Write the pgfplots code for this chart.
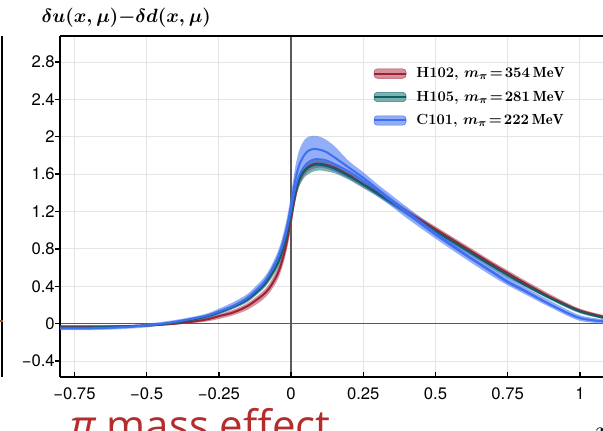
\documentclass[border=0pt]{standalone}
\usepackage{pgfplots}
\pgfplotsset{compat=1.18}
\usepackage{pgfplotstable}
\usepgfplotslibrary{fillbetween}
\usepackage{fontspec}
\newfontfamily\heros{TeX Gyre Heros}
\newfontfamily\opensans{Open Sans}
\definecolor{redline}{HTML}{9E2236}
\definecolor{redfill}{HTML}{B8495B}
\definecolor{tealline}{HTML}{0F5F63}
\definecolor{tealfill}{HTML}{2A7F80}
\definecolor{blueline}{HTML}{3F6EF0}
\definecolor{bluefill}{HTML}{4A78F0}
\definecolor{slidered}{HTML}{B32D2E}
\definecolor{leftmark}{HTML}{A0522D}

\pgfplotstableread{
x lo mid hi
-0.8 -0.04 -0.03 -0.02
-0.7 -0.04 -0.03 -0.02
-0.6 -0.04 -0.03 -0.02
-0.5 -0.03 -0.02 -0.01
-0.4 -0.01 0.0 0.01
-0.3 0.02 0.04 0.06
-0.25 0.05 0.08 0.10
-0.2 0.09 0.12 0.15
-0.15 0.15 0.19 0.22
-0.1 0.25 0.30 0.34
-0.075 0.33 0.38 0.43
-0.05 0.45 0.51 0.57
-0.035 0.56 0.63 0.70
-0.02 0.72 0.80 0.88
-0.01 0.86 0.95 1.03
0 1.02 1.12 1.20
0.01 1.22 1.30 1.38
0.02 1.38 1.45 1.52
0.03 1.49 1.55 1.61
0.045 1.58 1.63 1.68
0.06 1.63 1.68 1.72
0.08 1.66 1.71 1.75
0.1 1.67 1.71 1.75
0.12 1.66 1.70 1.74
0.15 1.63 1.67 1.71
0.2 1.55 1.59 1.62
0.25 1.46 1.49 1.53
0.3 1.37 1.40 1.43
0.35 1.27 1.30 1.33
0.4 1.17 1.20 1.23
0.5 0.98 1.01 1.04
0.6 0.79 0.82 0.85
0.7 0.60 0.63 0.66
0.75 0.51 0.54 0.57
0.8 0.42 0.45 0.48
0.9 0.26 0.28 0.31
1.0 0.12 0.14 0.16
1.1 0.04 0.06 0.08
}\redtab

\pgfplotstableread{
x lo mid hi
-0.8 -0.05 -0.04 -0.03
-0.7 -0.05 -0.04 -0.03
-0.6 -0.04 -0.03 -0.02
-0.5 -0.03 -0.02 -0.01
-0.4 0.0 0.01 0.02
-0.3 0.05 0.07 0.08
-0.25 0.10 0.12 0.14
-0.2 0.16 0.18 0.20
-0.15 0.23 0.26 0.28
-0.1 0.36 0.39 0.42
-0.075 0.45 0.49 0.52
-0.05 0.57 0.62 0.66
-0.035 0.67 0.73 0.78
-0.02 0.81 0.88 0.94
-0.01 0.94 1.01 1.08
0 1.08 1.16 1.24
0.01 1.25 1.33 1.40
0.02 1.39 1.46 1.53
0.03 1.48 1.55 1.62
0.045 1.56 1.63 1.69
0.06 1.60 1.67 1.73
0.08 1.63 1.70 1.76
0.1 1.64 1.70 1.76
0.12 1.63 1.69 1.75
0.15 1.61 1.66 1.71
0.2 1.54 1.58 1.62
0.25 1.45 1.49 1.52
0.3 1.36 1.39 1.42
0.35 1.26 1.29 1.32
0.4 1.16 1.19 1.22
0.5 0.96 0.99 1.02
0.6 0.77 0.80 0.83
0.7 0.58 0.61 0.64
0.75 0.49 0.52 0.55
0.8 0.41 0.43 0.46
0.9 0.25 0.27 0.29
1.0 0.11 0.13 0.15
1.1 0.04 0.05 0.07
}\tealtab

\pgfplotstableread{
x lo mid mid2 hi
-0.8 -0.07 -0.05 -0.05 -0.03
-0.7 -0.07 -0.05 -0.05 -0.03
-0.6 -0.06 -0.04 -0.04 -0.02
-0.5 -0.04 -0.02 -0.02 0.0
-0.4 0.0 0.02 0.02 0.04
-0.3 0.05 0.08 0.08 0.10
-0.25 0.10 0.13 0.13 0.16
-0.2 0.16 0.19 0.19 0.23
-0.15 0.24 0.28 0.28 0.32
-0.1 0.37 0.42 0.42 0.47
-0.075 0.47 0.53 0.53 0.58
-0.05 0.61 0.68 0.67 0.74
-0.035 0.72 0.80 0.78 0.87
-0.02 0.87 0.96 0.93 1.05
-0.01 1.00 1.10 1.06 1.20
0 1.15 1.27 1.21 1.38
0.01 1.32 1.46 1.38 1.59
0.02 1.45 1.61 1.51 1.76
0.03 1.54 1.71 1.60 1.87
0.045 1.62 1.80 1.68 1.96
0.06 1.66 1.85 1.73 2.00
0.08 1.68 1.87 1.76 2.01
0.1 1.68 1.86 1.76 2.00
0.12 1.67 1.84 1.75 1.97
0.15 1.63 1.78 1.71 1.90
0.2 1.56 1.67 1.63 1.74
0.25 1.47 1.56 1.53 1.62
0.3 1.36 1.44 1.42 1.49
0.35 1.25 1.32 1.30 1.37
0.4 1.13 1.20 1.18 1.25
0.5 0.91 0.97 0.95 1.02
0.6 0.70 0.75 0.74 0.80
0.7 0.50 0.55 0.54 0.59
0.75 0.41 0.45 0.44 0.50
0.8 0.33 0.37 0.36 0.41
0.9 0.17 0.20 0.20 0.24
1.0 0.03 0.06 0.06 0.09
1.1 0.0 0.02 0.02 0.04
}\bluetab

\begin{document}
\begin{tikzpicture}
% remnant of neighbouring panel
\draw[black, line width=1.1pt] (1.5pt,40.5pt) -- (1.5pt,296.25pt);
\draw[leftmark, line width=1.5pt] (0pt,82.5pt) -- (2.2pt,82.5pt);

\begin{axis}[
  at={(45pt,40.5pt)}, anchor=south west,
  scale only axis, width=407.25pt, height=255.75pt,
  xmin=-0.8, xmax=1.08, ymin=-0.571, ymax=3.078,
  axis x line*=box, axis y line*=left,
  xtick pos=left,
  axis line style={black, line width=1.1pt},
  xtick={-0.75,-0.5,-0.25,0,0.25,0.5,0.75,1},
  xticklabels={−0.75,−0.5,−0.25,0,0.25,0.5,0.75,1},
  ytick={-0.4,0,0.4,0.8,1.2,1.6,2,2.4,2.8},
  yticklabels={−0.4,0,0.4,0.8,1.2,1.6,2,2.4,2.8},
  tick align=inside,
  major tick length=4pt,
  tick style={black, line width=1.1pt},
  ytick style={xshift=-4pt},
  grid=major,
  major grid style={color=black!10, line width=0.6pt},
  tick label style={font=\heros\fontsize{12.5}{14}\selectfont},
  yticklabel style={inner sep=0pt, xshift=-3.75pt},
  xticklabel style={inner sep=0pt, yshift=-7.5pt},
  extra x ticks={0}, extra x tick labels={},
  extra y ticks={0}, extra y tick labels={},
  extra tick style={major tick length=0pt, major grid style={color=black!65, line width=1.1pt}},
  legend style={at={(axis description cs:0.576,0.916)}, anchor=north west,
    draw=none, fill=none, inner sep=0pt,
    font=\fontsize{11}{13}\selectfont\bfseries\boldmath,
    row sep=4.5pt, cells={anchor=west},
    /tikz/every odd column/.append style={column sep=5pt}},
  legend image code/.code={},
]
% H102 red
\addplot[name path=rlo, draw=none, smooth, forget plot] table[x=x,y=lo]{\redtab};
\addplot[name path=rhi, draw=none, smooth, forget plot] table[x=x,y=hi]{\redtab};
\addplot[redfill, fill opacity=0.6, forget plot] fill between[of=rlo and rhi];
\addplot[redline, line width=1.5pt, smooth, forget plot] table[x=x,y=mid]{\redtab};
% H105 teal
\addplot[name path=tlo, draw=none, smooth, forget plot] table[x=x,y=lo]{\tealtab};
\addplot[name path=thi, draw=none, smooth, forget plot] table[x=x,y=hi]{\tealtab};
\addplot[tealfill, fill opacity=0.6, forget plot] fill between[of=tlo and thi];
\addplot[tealline, line width=1.5pt, smooth, forget plot] table[x=x,y=mid]{\tealtab};
% C101 blue
\addplot[name path=blo, draw=none, smooth, forget plot] table[x=x,y=lo]{\bluetab};
\addplot[name path=bhi, draw=none, smooth, forget plot] table[x=x,y=hi]{\bluetab};
\addplot[bluefill, fill opacity=0.6, forget plot] fill between[of=blo and bhi];
\addplot[blueline, line width=1.5pt, smooth, forget plot] table[x=x,y=mid]{\bluetab};
\addplot[blueline, line width=1.2pt, smooth, forget plot] table[x=x,y=mid2]{\bluetab};

\addlegendimage{legend image code/.code={
  \fill[redfill, fill opacity=0.6, rounded corners=2.5pt] (0pt,-3.5pt) rectangle (24pt,3.5pt);
  \draw[redline, line width=1.5pt] (0pt,0pt) -- (24pt,0pt);}}
\addlegendentry{H102, $m_\pi\!=\!354\,\mathrm{MeV}$}
\addlegendimage{legend image code/.code={
  \fill[tealfill, fill opacity=0.6, rounded corners=2.5pt] (0pt,-3.5pt) rectangle (24pt,3.5pt);
  \draw[tealline, line width=1.5pt] (0pt,0pt) -- (24pt,0pt);}}
\addlegendentry{H105, $m_\pi\!=\!281\,\mathrm{MeV}$}
\addlegendimage{legend image code/.code={
  \fill[bluefill, fill opacity=0.6, rounded corners=2.5pt] (0pt,-3.5pt) rectangle (24pt,3.5pt);
  \draw[blueline, line width=1.5pt] (0pt,0pt) -- (24pt,0pt);}}
\addlegendentry{C101, $m_\pi\!=\!222\,\mathrm{MeV}$}
\end{axis}

\node[anchor=west, inner sep=0pt, font=\fontsize{13.5}{16}\selectfont\boldmath] at (31pt,310.1pt) {$\delta u(x,\mu){-}\delta d(x,\mu)$};
\node[anchor=base west, inner sep=0pt, font=\fontsize{14}{16}\selectfont\boldmath] at (446.25pt,-4.5pt) {$x$};
\node[anchor=base west, inner sep=0pt, text=slidered, font=\opensans\fontsize{31.5}{36}\selectfont] at (52.5pt,-7.5pt) {{\itshape π} mass effect};

\pgfresetboundingbox
\useasboundingbox (0pt,0pt) rectangle (452.25pt,323.25pt);
\end{tikzpicture}
\end{document}
